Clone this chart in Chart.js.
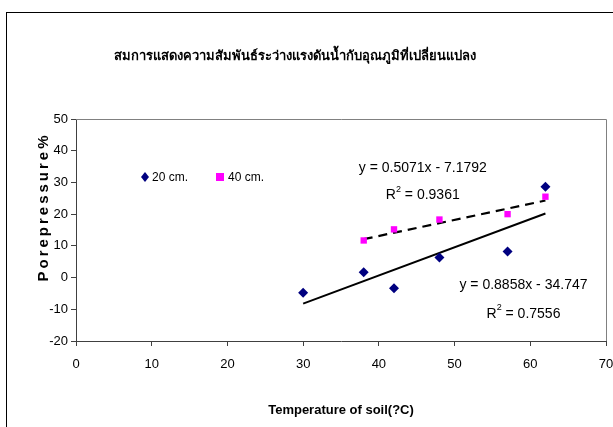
<!DOCTYPE html>
<html><head><meta charset="utf-8">
<script src="https://cdn.jsdelivr.net/npm/chart.js@4"></script>
<style>
html,body{margin:0;padding:0;background:#fff;overflow:hidden}
#wrap{position:absolute;left:0;top:0;width:613px;height:427px}
#frame{position:absolute;left:6px;top:12px;width:620px;height:430px;border:1px solid #000;box-sizing:border-box}
canvas{position:absolute;left:0;top:0}
</style></head><body>
<div id="wrap"><div id="frame"></div><canvas id="c" width="613" height="427"></canvas></div>
<script>
const chartTitle = "สมการแสดงความสัมพันธ์ระว่างแรงดันน้ำกับอุณภูมิที่เปลี่ยนแปลง";
const xTitle = "Temperature of soil(?C)";
const yTitle = "Porepressure%";
const seriesNames = ["20 cm.", "40 cm."];
const temp20 = [30, 38, 42, 48, 57, 62];
const press20 = [-4.8, 1.7, -3.4, 6.3, 8.2, 28.6];
const temp40 = [38, 42, 48, 57, 62];
const press40 = [11.7, 15.2, 18.3, 20.0, 25.5];
const trend20X = [30, 62];
const trend20Y = [-8.2, 20.2];
const trend40X = [38, 62];
const trend40Y = [12.1, 24.3];
const eq20 = ["y = 0.8858x - 34.747", "0.7556"];
const eq40 = ["y = 0.5071x - 7.1792", "0.9361"];
const xTicks = [0, 10, 20, 30, 40, 50, 60, 70];
const yTicks = [-20, -10, 0, 10, 20, 30, 40, 50];

const pts = (xs, ys) => xs.map((x, i) => ({x, y: ys[i]}));
const NAVY = '#000080', MAG = '#FF00FF';
const FONT = "'Liberation Sans',Arial,sans-serif";

const overlay = {
  id: 'overlay',
  afterDraw(chart) {
    const {ctx, chartArea: a, scales: {x, y}} = chart;
    ctx.save();
    ctx.strokeStyle = '#808080'; ctx.lineWidth = 1;
    ctx.beginPath();
    ctx.moveTo(a.left, a.top + 0.5); ctx.lineTo(a.right + 0.5, a.top + 0.5); ctx.lineTo(a.right + 0.5, a.bottom);
    ctx.stroke();
    ctx.fillStyle = '#000';
    ctx.textAlign = 'center'; ctx.textBaseline = 'middle';
    ctx.font = "bold 13px 'Noto Sans','DejaVu Sans',sans-serif";
    ctx.fillText(chartTitle, 295, 56);
    ctx.font = "bold 13px " + FONT;
    ctx.fillText(xTitle, (a.left + a.right) / 2, 410);
    ctx.save();
    ctx.translate(44, 207); ctx.rotate(-Math.PI / 2);
    ctx.font = "bold 15px " + FONT;
    ctx.letterSpacing = '3px';
    ctx.fillText(yTitle, 0, 0);
    ctx.restore();
    ctx.font = "12px " + FONT;
    ctx.textAlign = 'left';
    const ly = 177;
    ctx.fillStyle = NAVY;
    ctx.beginPath(); ctx.moveTo(145, ly - 5); ctx.lineTo(149, ly); ctx.lineTo(145, ly + 5); ctx.lineTo(141, ly); ctx.closePath(); ctx.fill();
    ctx.fillStyle = '#000'; ctx.fillText(seriesNames[0], 152, ly + 1);
    ctx.fillStyle = MAG; ctx.fillRect(216, ly - 4, 8, 8);
    ctx.fillStyle = '#000'; ctx.fillText(seriesNames[1], 228, ly + 1);
    ctx.textAlign = 'center';
    const eq = (lines, cx, cy1, cy2) => {
      ctx.font = "14px " + FONT;
      ctx.fillText(lines[0], x.getPixelForValue(cx), y.getPixelForValue(cy1));
      const px = x.getPixelForValue(cx), py = y.getPixelForValue(cy2);
      const t1 = 'R', t2 = ' = ' + lines[1];
      const w1 = ctx.measureText(t1).width, w2 = ctx.measureText(t2).width;
      ctx.font = "9px " + FONT; const ws = ctx.measureText('2').width;
      const start = px - (w1 + ws + w2) / 2;
      ctx.textAlign = 'left';
      ctx.font = "14px " + FONT; ctx.fillText(t1, start, py);
      ctx.font = "9px " + FONT; ctx.fillText('2', start + w1, py - 6);
      ctx.font = "14px " + FONT; ctx.fillText(t2, start + w1 + ws, py);
      ctx.textAlign = 'center';
    };
    eq(eq40, 45.8, 34.5, 25.9);
    eq(eq20, 59.1, -2.5, -11.4);
    ctx.restore();
  }
};

new Chart(document.getElementById('c'), {
  type: 'scatter',
  data: {
    datasets: [
      {label: seriesNames[0], data: pts(temp20, press20), pointStyle: 'rectRot', radius: 5, backgroundColor: NAVY, borderColor: NAVY, borderWidth: 0},
      {label: seriesNames[1], data: pts(temp40, press40), pointStyle: 'rect', radius: 4.5, backgroundColor: MAG, borderColor: MAG, borderWidth: 0},
      {type: 'line', data: pts(trend20X, trend20Y), borderColor: '#000', borderWidth: 2, pointRadius: 0, fill: false},
      {type: 'line', data: pts(trend40X, trend40Y), borderColor: '#000', borderWidth: 2.2, borderDash: [9, 6], pointRadius: 0, fill: false}
    ]
  },
  options: {
    responsive: false, animation: false, devicePixelRatio: 1,
    layout: {padding: {left: 0, right: 7, top: 119, bottom: 0}},
    plugins: {legend: {display: false}, tooltip: {enabled: false}},
    scales: {
      x: {
        type: 'linear', min: 0, max: 70,
        afterBuildTicks: s => { s.ticks = xTicks.map(v => ({value: v})); },
        afterFit: s => { s.height = 86; s.paddingLeft = 0; s.paddingRight = 0; },
        grid: {drawOnChartArea: false, drawTicks: true, tickLength: 5, color: '#404040'},
        border: {color: '#404040', width: 1},
        ticks: {color: '#000', font: {family: FONT, size: 13}, padding: 11, maxRotation: 0}
      },
      y: {
        type: 'linear', min: -20, max: 50,
        afterBuildTicks: s => { s.ticks = yTicks.map(v => ({value: v})); },
        afterFit: s => { s.width = 76; s.paddingTop = 0; s.paddingBottom = 0; },
        grid: {drawOnChartArea: false, drawTicks: true, tickLength: 5, color: '#404040'},
        border: {color: '#404040', width: 1},
        ticks: {color: '#000', font: {family: FONT, size: 13}, padding: 3}
      }
    }
  },
  plugins: [overlay]
});
</script></body></html>
